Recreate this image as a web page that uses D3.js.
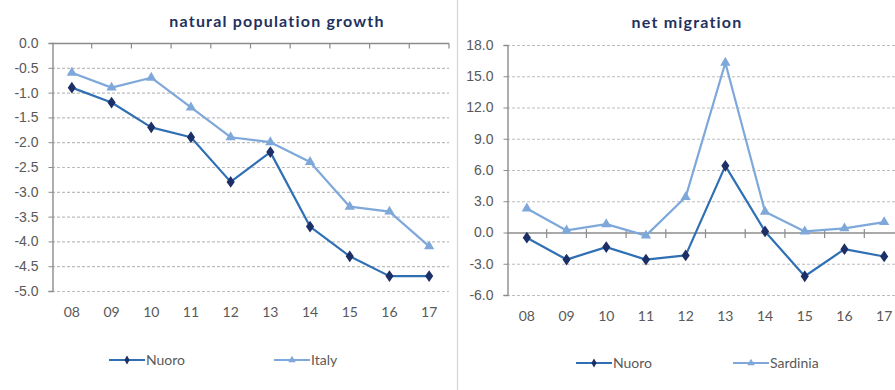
<!DOCTYPE html>
<html>
<head>
<meta charset="utf-8">
<script src="https://cdn.jsdelivr.net/npm/d3@7"></script>
<style>
  html, body { margin: 0; padding: 0; background: #fff; }
  svg { display: block; font-family: Lato, "Open Sans", sans-serif; }
</style>
</head>
<body>
<svg id="chart" width="895" height="390"></svg>
<script>
// Years (two-digit labels) shared by both panels
const years = ["08", "09", "10", "11", "12", "13", "14", "15", "16", "17"];

// Natural population growth (per 1,000 inhabitants)
const growthNuoro = [-0.9, -1.2, -1.7, -1.9, -2.8, -2.2, -3.7, -4.3, -4.7, -4.7];
const growthItaly = [-0.6, -0.9, -0.7, -1.3, -1.9, -2.0, -2.4, -3.3, -3.4, -4.1];
const growthTicks = [0, -0.5, -1, -1.5, -2, -2.5, -3, -3.5, -4, -4.5, -5];

// Net migration (per 1,000 inhabitants)
const migrationNuoro = [-0.5, -2.6, -1.4, -2.6, -2.2, 6.4, 0.1, -4.2, -1.6, -2.3];
const migrationSardinia = [2.3, 0.2, 0.8, -0.3, 3.4, 16.3, 2.0, 0.1, 0.4, 1.0];
const migrationTicks = [18, 15, 12, 9, 6, 3, 0, -3, -6];

const DARK_LINE = "#2f6fb3";
const DARK_MARK = "#1c2f66";
const LIGHT = "#7ea8da";
const GRID = "#bdbdbd";
const AXIS = "#8c8c8c";
const LABEL = "#595959";
const TITLE = "#1f3160";

const svg = d3.select("#chart");

// Divider between the two panels
svg.append("line")
  .attr("x1", 457.5).attr("x2", 457.5).attr("y1", 0).attr("y2", 390)
  .attr("stroke", "#d4d4d4").attr("stroke-width", 1.2);

function panel(opts) {
  const g = svg.append("g");
  const x = d3.scalePoint().domain(years).range([opts.left, opts.right]).padding(0.5);
  const xb = d3.scaleBand().domain(years).range([opts.left, opts.right]);
  const y = d3.scaleLinear().domain(opts.domain).range([opts.bottom, opts.top]);

  // Title
  g.append("text")
    .attr("x", opts.titleX).attr("y", opts.titleY)
    .attr("text-anchor", "middle")
    .attr("font-size", 16).attr("font-weight", 700)
    .attr("letter-spacing", 1.2)
    .attr("fill", TITLE)
    .text(opts.title);

  // Dashed horizontal gridlines
  g.selectAll(".grid").data(opts.ticks.filter(t => t !== 0)).join("line")
    .attr("x1", opts.left).attr("x2", opts.right)
    .attr("y1", d => y(d) + 0.5).attr("y2", d => y(d) + 0.5)
    .attr("stroke", GRID).attr("stroke-width", 1.2)
    .attr("stroke-dasharray", "3,2");

  // Value axis
  const yAxis = d3.axisLeft(y).tickValues(opts.ticks)
    .tickFormat(d3.format(".1f")).tickSize(4).tickPadding(10);
  const ya = g.append("g").attr("transform", `translate(${opts.left + 0.5},0)`).call(yAxis);
  ya.select(".domain").attr("stroke", AXIS).attr("stroke-width", 1.4);
  ya.selectAll(".tick line").attr("stroke", AXIS);
  ya.selectAll(".tick text").attr("fill", LABEL).attr("font-size", 14)
    .text(d => d3.format(".1f")(d).replace("\u2212", "-"));

  // Category axis running along zero
  const y0 = y(0) + 0.5;
  g.append("line")
    .attr("x1", opts.left).attr("x2", opts.right)
    .attr("y1", y0).attr("y2", y0)
    .attr("stroke", AXIS).attr("stroke-width", 1.4);
  const boundaries = years.map(d => xb(d)).slice(1).concat([opts.right]);
  g.selectAll(".xtick").data(boundaries).join("line")
    .attr("x1", d => d).attr("x2", d => d)
    .attr("y1", y0 + opts.tickUp).attr("y2", y0 + 5)
    .attr("stroke", AXIS).attr("stroke-width", 1.2);

  // Category labels under the plot
  g.selectAll(".xlab").data(years).join("text")
    .attr("x", d => x(d)).attr("y", opts.labelY)
    .attr("text-anchor", "middle")
    .attr("font-size", 14).attr("fill", LABEL)
    .text(d => d);

  const line = d3.line().x((d, i) => x(years[i])).y(d => y(d));

  // Light series (triangles)
  g.append("path").datum(opts.light)
    .attr("d", line).attr("fill", "none")
    .attr("stroke", LIGHT).attr("stroke-width", 2.2).attr("stroke-linejoin", "round");
  g.selectAll(".tri").data(opts.light).join("path")
    .attr("d", d3.symbol(d3.symbolTriangle, 46))
    .attr("transform", (d, i) => `translate(${x(years[i])},${y(d)})`)
    .attr("fill", LIGHT);

  // Dark series (diamonds)
  g.append("path").datum(opts.dark)
    .attr("d", line).attr("fill", "none")
    .attr("stroke", DARK_LINE).attr("stroke-width", 2.2).attr("stroke-linejoin", "round");
  g.selectAll(".dia").data(opts.dark).join("path")
    .attr("d", d3.symbol(d3.symbolDiamond, 40))
    .attr("transform", (d, i) => `translate(${x(years[i])},${y(d)}) scale(1.2,1)`)
    .attr("fill", DARK_MARK);

  // Legend
  const legend = [
    { name: opts.darkName, x: opts.legendX[0], stroke: DARK_LINE, fill: DARK_MARK, sym: d3.symbolDiamond, size: 24 },
    { name: opts.lightName, x: opts.legendX[1], stroke: LIGHT, fill: LIGHT, sym: d3.symbolTriangle, size: 24 }
  ];
  const lg = g.selectAll(".leg").data(legend).join("g")
    .attr("transform", d => `translate(${d.x},${opts.legendY})`);
  lg.append("line").attr("x1", 0).attr("x2", 36).attr("y1", 0).attr("y2", 0)
    .attr("stroke", d => d.stroke).attr("stroke-width", 2.2);
  lg.append("path").attr("d", d => d3.symbol(d.sym, d.size)())
    .attr("transform", "translate(18,0)").attr("fill", d => d.fill);
  lg.append("text").attr("x", 37).attr("y", 5)
    .attr("font-size", 14).attr("fill", LABEL)
    .text(d => d.name);
}

panel({
  title: "natural population growth", titleX: 277, titleY: 27,
  left: 52, right: 449, top: 43, bottom: 291,
  domain: [-5, 0], ticks: growthTicks,
  dark: growthNuoro, light: growthItaly,
  darkName: "Nuoro", lightName: "Italy",
  tickUp: 0, labelY: 317,
  legendX: [109, 274], legendY: 360
});

panel({
  title: "net migration", titleX: 687, titleY: 28,
  left: 507, right: 904, top: 45, bottom: 295,
  domain: [-6, 18], ticks: migrationTicks,
  dark: migrationNuoro, light: migrationSardinia,
  darkName: "Nuoro", lightName: "Sardinia",
  tickUp: -4, labelY: 321,
  legendX: [576, 733], legendY: 363
});
</script>
</body>
</html>
